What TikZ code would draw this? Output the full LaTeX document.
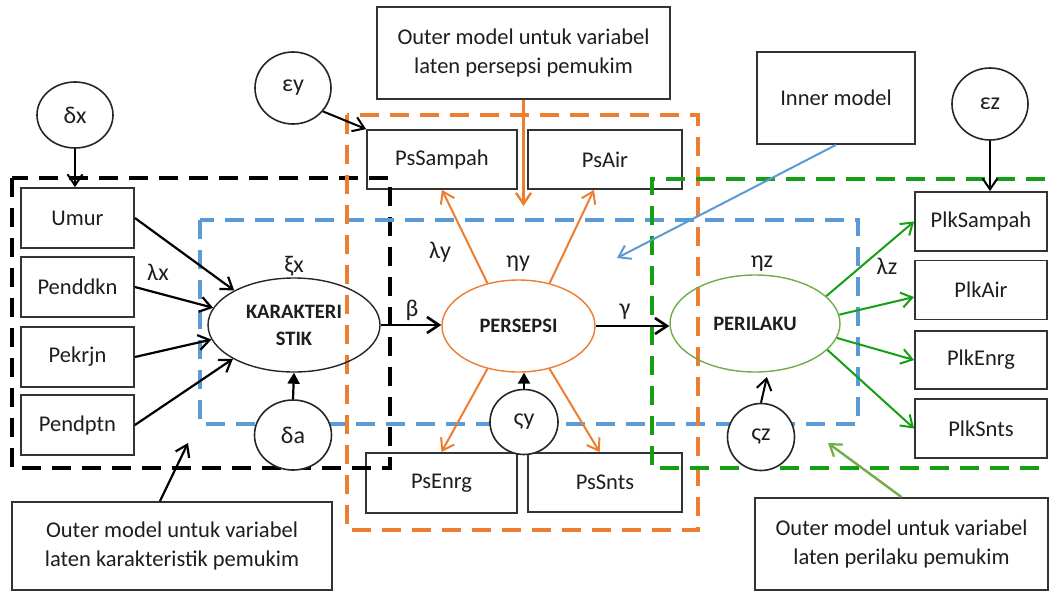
\documentclass[tikz,border=0pt]{standalone}
\usepackage{fontspec}
\setmainfont{Carlito}
\usetikzlibrary{shapes.geometric,arrows.meta,calc}
\definecolor{orng}{HTML}{ED7D31}
\definecolor{blu}{HTML}{5B9BD5}
\definecolor{grn}{HTML}{13A013}
\definecolor{lgrn}{HTML}{70AD47}
\definecolor{txt}{HTML}{1E1E1E}
\begin{document}
\begin{tikzpicture}[x=1pt,y=-1pt,
  box/.style={draw=black!80, line width=1.8pt, rectangle, inner sep=0pt, text=txt,
    font=\fontsize{22.5}{29}\selectfont, align=center},
  lat/.style={ellipse, line width=1.4pt, inner sep=0pt, text=txt,
    font=\fontsize{20.5}{27}\selectfont\bfseries, align=center},
  err/.style={ellipse, draw=black!85, line width=1.6pt, fill=white, inner sep=0pt,
    text=txt, font=\fontsize{24}{26}\selectfont},
  lbl/.style={text=txt, font=\fontsize{24}{26}\selectfont, inner sep=0pt},
  dbox/.style={line width=4.2pt, dash pattern=on 19pt off 11pt},
  arr/.style={line width=2.2pt, -{Straight Barb[length=11pt,width=15pt,line width=2.2pt]}},
  tri/.style={line width=2.2pt, -{Triangle[length=11pt,width=12pt]}},
  sarr/.style={line width=2pt, -{Straight Barb[length=11pt,width=15pt,line width=2pt]}}
]
\useasboundingbox (0,0) rectangle (1050,592);
\fill[white] (0,0) rectangle (1050,592);

% indicator boxes
\node[box, minimum width=113, minimum height=60] (umur) at (77.5,218) {Umur};
\node[box, minimum width=113, minimum height=60] (penddkn) at (77.5,287) {Penddkn};
\node[box, minimum width=113, minimum height=60] (pekrjn) at (77.5,357) {Pekrjn};
\node[box, minimum width=113, minimum height=60] (pendptn) at (77.5,425) {Pendptn};

\node[box, minimum width=150, minimum height=59] (pssampah) at (442,159.5) {PsSampah};
\node[box, minimum width=154, minimum height=59] (psair) at (605,159.5) {PsAir};
\node[box, minimum width=151, minimum height=60] (psenrg) at (441.5,483) {PsEnrg};
\node[box, minimum width=154, minimum height=59] (pssnts) at (605,482.5) {PsSnts};

\node[box, minimum width=132, minimum height=59] (plksampah) at (981,221.5) {PlkSampah};
\node[box, minimum width=132, minimum height=59] (plkair) at (981,290) {PlkAir};
\node[box, minimum width=132, minimum height=58] (plkenrg) at (981,360) {PlkEnrg};
\node[box, minimum width=132, minimum height=59] (plksnts) at (981,428.5) {PlkSnts};

% annotation boxes
\node[box, minimum width=293, minimum height=92] (outp) at (523.5,53) {Outer model untuk variabel\\laten persepsi pemukim};
\node[box, minimum width=158, minimum height=92] (inner) at (836,98) {Inner model};
\node[box, minimum width=320, minimum height=88] (outk) at (172,546) {Outer model untuk variabel\\laten karakteristik pemukim};
\node[box, minimum width=293, minimum height=92] (outr) at (901.5,544) {Outer model untuk variabel\\laten perilaku pemukim};

% dashed regions
\draw[dbox, black] (12,178) rectangle (390,468);
\draw[dbox, blu] (200,220) rectangle (858,424);
\draw[dbox, orng] (347,115) rectangle (698,530);
\draw[dbox, grn] (1045,179) -- (652,179) -- (652,468) -- (1050,468);

% latent variables
\node[lat, draw=black!85, minimum width=172, minimum height=94] (kar) at (294,325) {KARAKTERI\\STIK};
\node[lat, draw=orng, minimum width=153, minimum height=92] (per) at (518.5,326) {PERSEPSI};
\node[lat, draw=lgrn, minimum width=170, minimum height=97] (pel) at (755,323.5) {PERILAKU};

% error terms
\node[err, minimum width=76, minimum height=66] (dx) at (75,115) {δx};
\node[err, minimum width=76, minimum height=72] (ey) at (293,88) {εy};
\node[err, minimum width=76, minimum height=72] (ez) at (990,104) {εz};
\node[err, minimum width=77, minimum height=70] (da) at (293,435) {δa};
\node[err, minimum width=68, minimum height=65] (sy) at (524,422) {ςy};
\node[err, minimum width=67, minimum height=67] (sz) at (761,437) {ςz};

% labels
\node[lbl] (lxi) at (294,266) {ξx};
\node[lbl] (llx) at (158,272) {λx};
\node[lbl] (lly) at (440,252) {λy};
\node[lbl] (lny) at (518,264) {ηy};
\node[lbl] (lb) at (412,310) {β};
\node[lbl] (lg) at (625,312) {γ};
\node[lbl] (lnz) at (762,264) {ηz};
\node[lbl] (llz) at (887,266) {λz};

% free ends
\coordinate (opend) at (523.5,206);
\coordinate (inend) at (617,258);
\coordinate (okend) at (188,443);
\coordinate (orend) at (828,443);

% error arrows
\draw[sarr, black] (dx.south) -- (dx.south |- umur.north);
\draw[sarr, black] (ey.-38) -- (pssampah.north west);
\draw[sarr, black] (ez.south) -- (ez.south |- plksampah.north);
\draw[tri, black] (da.north) -- (kar.south);
\draw[tri, black] (sy.north) -- (sy.north |- per.south);
\draw[sarr, black, shorten >=5pt] (sz.north) -- (pel.285);

% formative indicators
\draw[arr, black] (umur.east) -- (kar.150);
\draw[arr, black] (penddkn.east) -- (kar.168);
\draw[arr, black] (pekrjn.east) -- (kar.190);
\draw[arr, black] (pendptn.east) -- (kar.209);

% structural paths
\draw[line width=2.8pt, black, -{Straight Barb[length=12pt,width=16pt,line width=2.6pt]}] (kar.east) -- (kar.east -| per.west);
\draw[line width=2.8pt, black, -{Straight Barb[length=12pt,width=16pt,line width=2.6pt]}] (per.east) -- (per.east -| pel.west);

% persepsi indicators
\draw[sarr, orng] (per.126) -- (pssampah.south);
\draw[sarr, orng] (per.54) -- (psair.250);
\draw[sarr, orng] (per.234) -- (psenrg.north);
\draw[sarr, orng] (per.306) -- (pssnts.100);

% perilaku indicators
\draw[sarr, grn] (pel.21) -- (plksampah.west);
\draw[sarr, grn] (pel.6) -- (plkair.186);
\draw[sarr, grn] (pel.-10) -- (plkenrg.west);
\draw[sarr, grn] (pel.-20) -- (plksnts.west);

% annotation pointers
\draw[line width=2.8pt, orng, -{Straight Barb[length=11pt,width=15pt,line width=2.4pt]}] (outp.south) -- (opend);
\draw[sarr, blu] (inner.south) -- (inend);
\draw[arr, black] (outk.105) -- (okend);
\draw[line width=2.4pt, lgrn, -{Straight Barb[length=11pt,width=15pt,line width=2.2pt]}] (outr.north) -- (orend);
\end{tikzpicture}
\end{document}
